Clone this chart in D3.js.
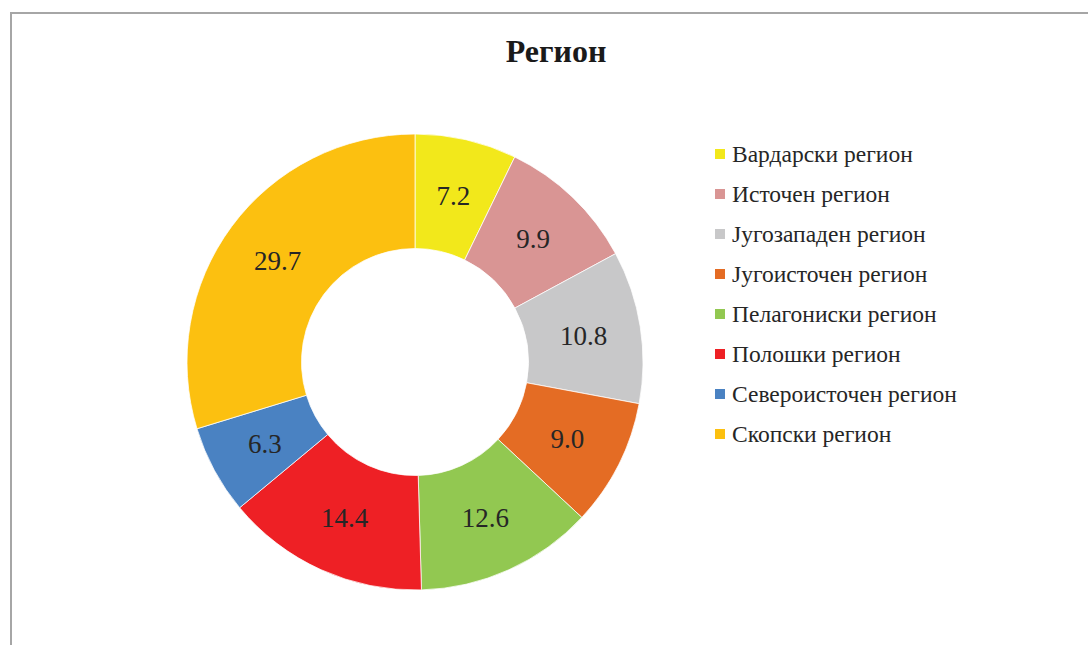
<!DOCTYPE html>
<html>
<head>
<meta charset="utf-8">
<script src="https://cdn.jsdelivr.net/npm/d3@7"></script>
<style>
  html, body { margin: 0; padding: 0; background: #fff; }
  svg { display: block; }
  svg text { font-family: "Liberation Serif", "Times New Roman", serif; }
</style>
</head>
<body>
<div id="chart"></div>
<script>
// data
const regions = ["Вардарски регион", "Источен регион", "Југозападен регион", "Југоисточен регион",
  "Пелагониски регион", "Полошки регион", "Североисточен регион", "Скопски регион"];
const shares = [7.2, 9.9, 10.8, 9.0, 12.6, 14.4, 6.3, 29.7];
const colors = ["#F2E81B", "#D99594", "#C8C8C9", "#E46C24", "#92C851", "#EE2025", "#4A82C2", "#FCC010"];
const title = "Регион";

const width = 1088, height = 645;
const cx = 415, cy = 362;
const outerR = 228, innerR = 113.5;

const svg = d3.select("#chart").append("svg")
  .attr("width", width)
  .attr("height", height);

// chart frame (only top and left edges are inside the window)
svg.append("path")
  .attr("d", `M11,${height + 5} V13 H${width + 5}`)
  .attr("fill", "none")
  .attr("stroke", "#a6a6a6")
  .attr("stroke-width", 2);

svg.append("text")
  .attr("x", 556)
  .attr("y", 62)
  .attr("text-anchor", "middle")
  .attr("font-weight", "bold")
  .attr("font-size", "32px")
  .attr("fill", "#1a1a1a")
  .text(title);

const color = d3.scaleOrdinal().domain(regions).range(colors);

const data = regions.map((r, i) => ({ region: r, value: shares[i] }));

const pie = d3.pie()
  .sort(null)
  .value(d => d.value);

const arc = d3.arc()
  .innerRadius(innerR)
  .outerRadius(outerR);

const g = svg.append("g").attr("transform", `translate(${cx},${cy})`);

const arcs = pie(data);

g.selectAll("path.slice")
  .data(arcs)
  .join("path")
  .attr("class", "slice")
  .attr("d", arc)
  .attr("fill", d => color(d.data.region))
  .attr("stroke", "#fff")
  .attr("stroke-width", 0.75);

g.selectAll("text.lbl")
  .data(arcs)
  .join("text")
  .attr("class", "lbl")
  .attr("transform", d => `translate(${arc.centroid(d)})`)
  .attr("dy", "0.35em")
  .attr("text-anchor", "middle")
  .attr("font-size", "27px")
  .attr("fill", "#262626")
  .text(d => d3.format(".1f")(d.data.value));

// legend
const legend = svg.append("g").attr("transform", "translate(714,154)");
const item = legend.selectAll("g")
  .data(regions)
  .join("g")
  .attr("transform", (d, i) => `translate(0,${i * 40})`);

item.append("rect")
  .attr("x", 1)
  .attr("y", -5)
  .attr("width", 10)
  .attr("height", 10)
  .attr("fill", d => color(d));

item.append("text")
  .attr("x", 18)
  .attr("dy", "0.35em")
  .attr("font-size", "23.5px")
  .attr("fill", "#262626")
  .text(d => d);
</script>
</body>
</html>
